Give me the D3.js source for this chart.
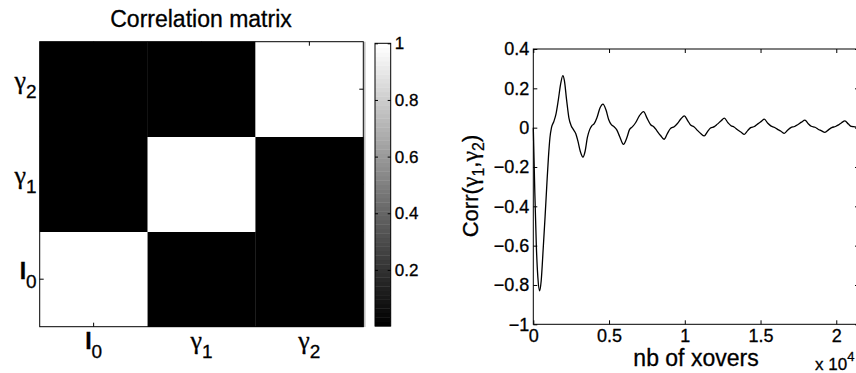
<!DOCTYPE html>
<html><head><meta charset="utf-8">
<script src="https://cdn.jsdelivr.net/npm/d3@7"></script>
<style>
body{margin:0;background:#fff;}
text{font-family:"Liberation Sans",Arial,Helvetica,sans-serif;fill:#000;stroke:#000;stroke-width:0.3px;}
.greek{font-family:"Liberation Serif","Times New Roman",serif;}
</style>
</head><body>
<svg id="chart" width="856" height="373"></svg>
<script>
// ---------- data ----------
const categories = ["I0", "γ1", "γ2"];
const matrixValues = [
  [1, 0.002, 0.002],
  [0.002, 1, 0.002],
  [0.002, 0.002, 1]
];
const colorLimits = [0.002, 1];
const colorbarTicks = [0.2, 0.4, 0.6, 0.8, 1];
const colorbarTickLabels = ["0.2", "0.4", "0.6", "0.8", "1"];

const nbXovers = [0,100,200,300,420,520,650,780,900,1000,1100,1200,1350,1500,1650,1800,1950,2050,2200,2350,2500,2650,2800,2950,3100,3280,3420,3570,3720,3870,4020,4200,4400,4600,4800,4980,5150,5330,5500,5700,5950,6180,6350,6550,6750,7000,7280,7500,7750,7950,8150,8400,8630,8850,9050,9300,9500,9750,9970,10200,10400,10600,10850,11050,11290,11500,11700,11950,12150,12400,12610,12850,13050,13250,13500,13700,13930,14150,14350,14600,14800,15050,15250,15480,15700,15900,16150,16350,16570,16800,17000,17250,17450,17700,17930,18150,18350,18600,18800,19000,19250,19500,19700,19950,20150,20350,20570,20800,21000,21230,21500];
const corrValues = [0.00,-0.33,-0.60,-0.76,-0.83,-0.78,-0.62,-0.45,-0.28,-0.15,-0.05,0.00,0.03,0.07,0.14,0.22,0.265,0.24,0.14,0.05,0.01,-0.01,-0.03,-0.07,-0.12,-0.15,-0.12,-0.05,-0.01,0.01,0.02,0.05,0.10,0.12,0.09,0.04,0.015,0.005,-0.01,-0.045,-0.085,-0.05,-0.01,0.005,0.025,0.06,0.082,0.05,0.015,0.005,-0.015,-0.04,-0.059,-0.03,-0.005,0.005,0.02,0.045,0.06,0.035,0.012,0.005,-0.015,-0.03,-0.042,-0.02,-0.002,0.005,0.018,0.035,0.048,0.025,0.01,0.003,-0.012,-0.022,-0.034,-0.015,0.0,0.006,0.018,0.032,0.043,0.022,0.008,0.002,-0.01,-0.018,-0.029,-0.012,0.0,0.006,0.015,0.028,0.038,0.02,0.007,0.002,-0.008,-0.015,-0.024,-0.01,0.0,0.006,0.014,0.025,0.034,0.018,0.006,0.004,-0.002];
const xTicks = [0, 5000, 10000, 15000, 20000];
const xTickLabels = ["0", "0.5", "1", "1.5", "2"];
const yTicks = [0.4, 0.2, 0, -0.2, -0.4, -0.6, -0.8, -1];
const yTickLabels = ["0.4", "0.2", "0", "\u22120.2", "\u22120.4", "\u22120.6", "\u22120.8", "\u22121"];
const xDomain = [0, 21500];
const yDomain = [-1, 0.4];

// ---------- drawing ----------
const svg = d3.select("#chart");

function subLabel(sel, mainSize, subSize, subDy) {
  sel.each(function(d) {
    const lab = d;
    const t = d3.select(this);
    t.text(null);
    const m = t.append("tspan").attr("font-size", mainSize).text(lab[0]);
    if (lab[0] === "I") m.attr("font-weight", "bold");
    else m.attr("class", "greek").attr("font-size", mainSize + 3);
    t.append("tspan").attr("font-size", subSize).attr("dy", subDy).text(lab.slice(1));
  });
}

// ---- matrix ----
const mx = d3.scaleBand().domain(categories).range([39.7, 363.3]);
const my = d3.scaleBand().domain(categories.slice().reverse()).range([41.7, 326.7]);
const gray = d3.scaleLinear().domain(colorLimits).range(["#000000", "#ffffff"]).clamp(true);

const cells = [];
matrixValues.forEach((row, i) => row.forEach((v, j) => cells.push({r: categories[i], c: categories[j], v})));
svg.append("g").selectAll("rect").data(cells).join("rect")
  .attr("x", d => mx(d.c)).attr("y", d => my(d.r))
  .attr("width", mx.bandwidth() + 0.3).attr("height", my.bandwidth() + 0.3)
  .attr("fill", d => gray(d.v));

svg.append("rect").attr("x", 39.7).attr("y", 41.7).attr("width", 323.6).attr("height", 285)
  .attr("fill", "none").attr("stroke", "#000").attr("stroke-width", 1);
svg.append("line").attr("x1", 364.8).attr("x2", 364.8).attr("y1", 41.7).attr("y2", 327)
  .attr("stroke", "#bbb").attr("stroke-width", 1.5);

const mxB = svg.append("g").attr("transform", "translate(0,326.7)")
  .call(d3.axisBottom(mx).tickSize(-4).tickPadding(15));
const mxT = svg.append("g").attr("transform", "translate(0,41.7)")
  .call(d3.axisTop(mx).tickSize(-4).tickFormat(""));
const myL = svg.append("g").attr("transform", "translate(39.7,0)")
  .call(d3.axisLeft(my).tickSize(-4).tickPadding(3));
const myR = svg.append("g").attr("transform", "translate(363.3,0)")
  .call(d3.axisRight(my).tickSize(-4).tickFormat(""));
[mxB, mxT, myL, myR].forEach(g => { g.attr("font-family", null); g.select(".domain").remove(); g.selectAll("line").attr("stroke", "#000"); });
mxB.selectAll("text").attr("dy", "0.71em").call(subLabel, 23, 19, 9);
myL.selectAll("text").attr("dy", "-0.05em").call(subLabel, 23, 19, 9);
myL.selectAll("text").attr("text-anchor", "end");

svg.append("text").attr("x", 201).attr("y", 27).attr("text-anchor", "middle")
  .attr("font-size", 23).text("Correlation matrix");

// ---- colorbar ----
const cbY = d3.scaleLinear().domain(colorLimits).range([326, 43.3]);
const nLevels = 64;
const step = (colorLimits[1] - colorLimits[0]) / nLevels;
const levels = d3.range(nLevels).map(i => colorLimits[0] + i * step);
svg.append("g").selectAll("rect").data(levels).join("rect")
  .attr("x", 375).attr("width", 15.7)
  .attr("y", d => cbY(d + step)).attr("height", d => cbY(d) - cbY(d + step) + 0.4)
  .attr("fill", (d, i) => d3.interpolateRgb("#000", "#fff")(i / (nLevels - 1)));
svg.append("rect").attr("x", 375).attr("y", 43.3).attr("width", 15.7).attr("height", 282.7)
  .attr("fill", "none").attr("stroke", "#000");
const cbAx = svg.append("g").attr("transform", "translate(390.7,0)")
  .call(d3.axisRight(cbY).tickValues(colorbarTicks).tickSize(-3).tickPadding(4)
    .tickFormat((d, i) => colorbarTickLabels[i]));
cbAx.attr("font-family", null).attr("font-size", 17);
cbAx.select(".domain").remove();
cbAx.selectAll("line").attr("stroke", "#000");
const cbAxL = svg.append("g").attr("transform", "translate(375,0)")
  .call(d3.axisLeft(cbY).tickValues(colorbarTicks).tickSize(-3).tickFormat(""));
cbAxL.select(".domain").remove();
cbAxL.selectAll("line").attr("stroke", "#000");

// ---- correlation curve ----
const px = d3.scaleLinear().domain(xDomain).range([533.3, 859]);
const py = d3.scaleLinear().domain(yDomain).range([324.3, 49]);

svg.append("rect").attr("x", 533.3).attr("y", 49).attr("width", 859 - 533.3).attr("height", 324.3 - 49)
  .attr("fill", "#fff").attr("stroke", "#000").attr("stroke-width", 1);

const fmtX = (d, i) => xTickLabels[i];
const fmtY = (d, i) => yTickLabels[i];
const gxB = svg.append("g").attr("transform", "translate(0,324.3)")
  .call(d3.axisBottom(px).tickValues(xTicks).tickSize(-4).tickPadding(5).tickFormat(fmtX));
const gxT = svg.append("g").attr("transform", "translate(0,49)")
  .call(d3.axisTop(px).tickValues(xTicks).tickSize(-4).tickFormat(""));
const gyL = svg.append("g").attr("transform", "translate(533.3,0)")
  .call(d3.axisLeft(py).tickValues(yTicks).tickSize(-4).tickPadding(4).tickFormat(fmtY));
const gyR = svg.append("g").attr("transform", "translate(859,0)")
  .call(d3.axisRight(py).tickValues(yTicks).tickSize(-4).tickFormat(""));
[gxB, gxT, gyL, gyR].forEach(g => {
  g.attr("font-family", null).attr("font-size", 18);
  g.select(".domain").remove();
  g.selectAll("line").attr("stroke", "#000");
});

const line = d3.line().x((d, i) => px(nbXovers[i])).y(d => py(d)).curve(d3.curveMonotoneX);
svg.append("path").datum(corrValues).attr("d", line)
  .attr("fill", "none").attr("stroke", "#000").attr("stroke-width", 1.3);

svg.append("text").attr("x", 696).attr("y", 366).attr("text-anchor", "middle")
  .attr("font-size", 23).text("nb of xovers");
const ex = svg.append("text").attr("x", 815).attr("y", 370).attr("font-size", 17);
ex.append("tspan").text("x 10");
ex.append("tspan").attr("dy", -9).attr("font-size", 13).text("4");

const yl = svg.append("text").attr("transform", "translate(478,186) rotate(-90)")
  .attr("text-anchor", "middle").attr("font-size", 22);
yl.append("tspan").text("Corr(");
yl.append("tspan").attr("class", "greek").attr("font-size", 24).text("γ");
yl.append("tspan").attr("font-size", 16).attr("dy", 6).text("1");
yl.append("tspan").attr("dy", -6).text(",");
yl.append("tspan").attr("class", "greek").attr("font-size", 24).text("γ");
yl.append("tspan").attr("font-size", 16).attr("dy", 6).text("2");
yl.append("tspan").attr("dy", -6).text(")");
</script>
</body></html>
